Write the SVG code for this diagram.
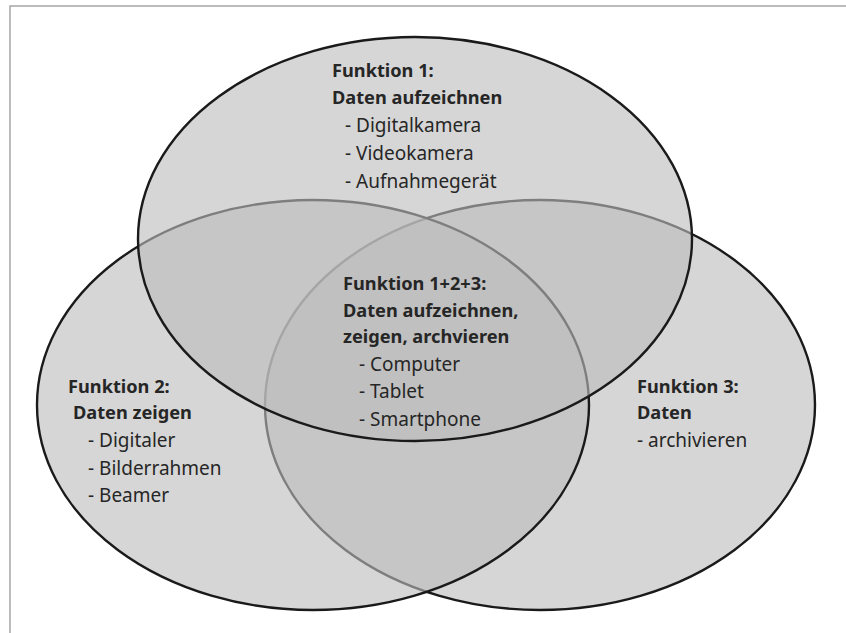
<svg xmlns="http://www.w3.org/2000/svg" width="846" height="633" viewBox="0 0 846 633">
<style>
.set{fill:#bdbdbd;fill-opacity:0.62;stroke:#1a1a1a;stroke-width:2.4}
.frame{fill:none;stroke:#a6a6a6;stroke-width:1.5}
text{font-family:"Noto Sans","Liberation Sans",sans-serif;font-size:19px;fill:#262626}
.b{font-weight:bold;font-size:18.2px}
</style>
<rect width="846" height="633" fill="#ffffff"/>
<path class="frame" d="M10,633 V6 H846"/>
<g id="set3">
<ellipse class="set" cx="540" cy="405" rx="275" ry="205"/>
<text class="b" x="637" y="393">Funktion 3:</text>
<text class="b" x="637" y="419">Daten</text>
<text x="637" y="447">- archivieren</text>
</g>
<g id="set2">
<ellipse class="set" cx="313" cy="405" rx="276" ry="205"/>
<text class="b" x="68" y="393">Funktion 2:</text>
<text class="b" x="73" y="419">Daten zeigen</text>
<text x="88" y="447">- Digitaler</text>
<text x="88" y="475">- Bilderrahmen</text>
<text x="88" y="502">- Beamer</text>
</g>
<g id="set1">
<ellipse class="set" cx="415" cy="239" rx="277" ry="202"/>
<text class="b" x="332" y="77">Funktion 1:</text>
<text class="b" x="332" y="104">Daten aufzeichnen</text>
<text x="345" y="132">- Digitalkamera</text>
<text x="345" y="160">- Videokamera</text>
<text x="345" y="188">- Aufnahmegerät</text>
</g>
<g id="center">
<text class="b" x="343" y="290">Funktion 1+2+3:</text>
<text class="b" x="343" y="317">Daten aufzeichnen,</text>
<text class="b" x="343" y="343">zeigen, archvieren</text>
<text x="359" y="371">- Computer</text>
<text x="359" y="398">- Tablet</text>
<text x="359" y="426">- Smartphone</text>
</g>
</svg>
